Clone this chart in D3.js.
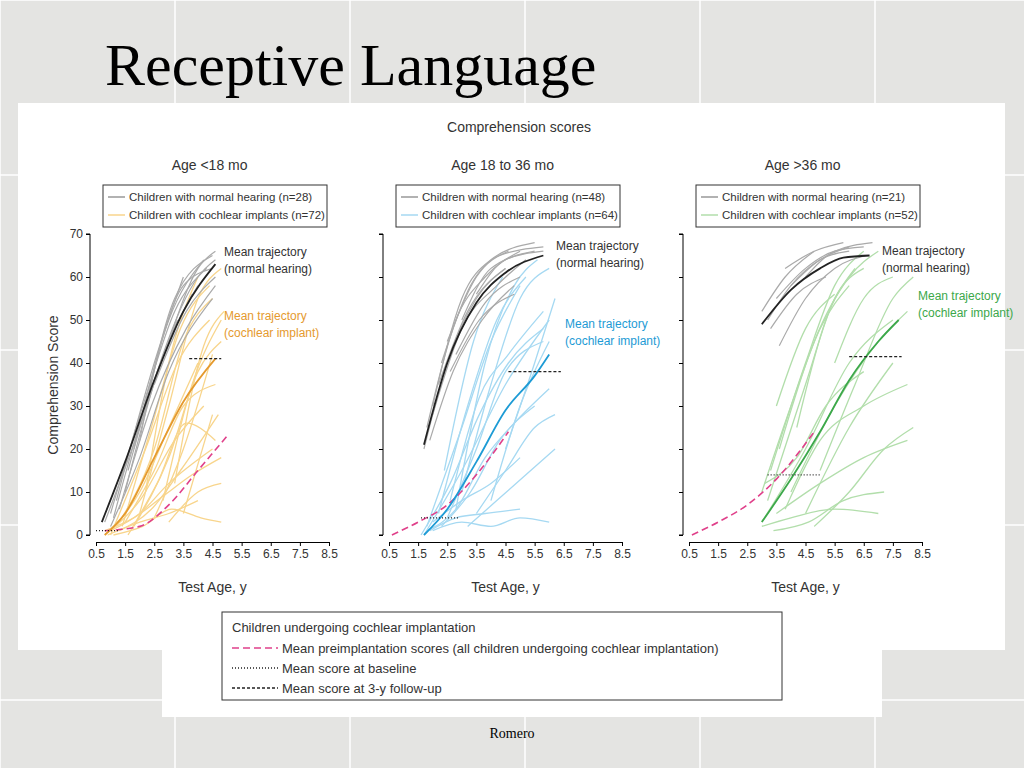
<!DOCTYPE html>
<html><head><meta charset="utf-8">
<script src="https://cdn.jsdelivr.net/npm/d3@7"></script>
<style>body{margin:0;background:#dcdcdc}text{font-family:"Liberation Sans",Arial,sans-serif}</style>
</head><body>
<script>
// x ticks and y ticks
const xTicks = [0.5, 1.5, 2.5, 3.5, 4.5, 5.5, 6.5, 7.5, 8.5];
const yTicks = [0, 10, 20, 30, 40, 50, 60, 70];

const panelTitles = ["Age <18 mo", "Age 18 to 36 mo", "Age >36 mo"];
const legendNormal = ["Children with normal hearing (n=28)", "Children with normal hearing (n=48)", "Children with normal hearing (n=21)"];
const legendCI = ["Children with cochlear implants (n=72)", "Children with cochlear implants (n=64)", "Children with cochlear implants (n=52)"];

// individual trajectories [age, score, age, score, ...]
const normal1 = [[0.8,3,2,25,3,45,4,58],[1,5,2.2,32,3.2,52,4.3,62],[1.2,8,2.5,40,3.5,60],[1.5,10,2.8,42,4,60,4.6,64],[1,2,2,18,3,38,4.5,55],[1.8,20,3,50,4.2,64],[2,22,3.2,55,4.5,65],[1.3,6,2.4,30,3.6,48,4.6,58],[2.2,30,3.5,58,4.5,62],[1.6,15,2.6,38,3.8,56],[2.5,35,3.6,52,4.6,60],[1.1,4,2.1,28,3.3,50],[3,45,4,62,4.6,66]];
const ci1 = [[0.8,0,2,10,3,25,4,40],[1,1,2,5,3,12,4.5,20],[1.2,2,2.5,20,3.5,45,4.5,55],[0.9,0,2,3,3,5,4,8],[1.5,3,2.5,15,3.5,30,4.6,35],[1,0,2.2,20,3.3,40,4.4,50],[2,5,3,30,4,55,4.8,62],[1.3,1,2.4,6,3.4,15,4.7,28],[1.8,2,3,18,4,38,4.8,45],[2.5,4,3.5,20,4.5,42],[1,1,2,8,3.2,22,4.2,30],[3,3,4,10,4.8,12],[2.2,10,3,40,4,60],[1.6,0,2.6,12,3.6,26,4.6,22],[0.8,1,1.8,4,2.8,9,3.8,14,4.8,18],[3.5,5,4.5,28],[1.4,2,2.4,25,3.4,48,4.4,58],[2.8,8,3.8,35,4.8,50],[1.1,0,2.1,2,3.1,6,4.1,4,4.8,3],[3.2,12,4.2,44,4.9,52]];
const normal2 = [[1.7,20,2.5,40,3.5,55,4.5,62],[1.8,25,2.8,50,3.8,60,5,66],[2,30,3,55,4,64,5.5,68],[2.2,35,3.2,52,4.5,62],[1.9,22,2.7,38,3.7,50,4.8,58],[2.5,45,3.5,60,4.6,66],[3,50,4,62,5.5,66],[2.3,40,3.3,58,4.3,65,5.8,67],[2.8,42,3.8,54,5,60],[2,28,3,48,4.2,58,5.2,64],[3.5,56,4.5,64,5.8,66],[2.6,38,3.6,50,4.8,56]];
const ci2 = [[1.7,0,3,15,4.5,35,6,50],[1.8,2,3,25,4,45,5,58],[2,3,3,8,4,12,5,18],[2.2,5,3.2,30,4.2,50,5.2,60],[1.9,1,2.8,4,3.8,5,5,6],[2.5,4,3.5,20,4.5,38,5.8,45],[3,10,4,35,5,55,6,62],[2.3,2,3.3,10,4.3,22,5.5,30],[1.6,0,2.6,12,3.6,28,4.6,40,5.8,48],[3.5,5,4.5,15,5.5,25,6.2,28],[2.8,6,3.8,40,4.8,58,5.6,64],[2,1,3,3,4,2,5,4,6,3],[4,8,5,30,6,45],[2.4,15,3.4,45,4.4,60],[1.8,1,2.8,6,3.8,18,4.8,26,6,34],[3.2,2,4.2,8,5.2,14,6.2,20],[2.6,8,3.6,32,4.6,42,5.8,52],[4.5,20,5.5,40,6.2,55]];
const normal3 = [[3.2,50,4,58,5,64,6,66],[3.5,55,4.5,62,5.5,66,6.5,67],[3,52,3.8,60,4.8,66],[3.6,44,4.5,55,5.5,62,6.6,65],[4,58,5,64,6,67],[3.3,48,4.2,56,5.2,60],[4.5,60,5.5,66,6.8,68],[3.8,62,4.8,66,5.8,68]];
const ci3 = [[3,3,4.5,20,6,40,7.5,50],[3.2,8,4.5,35,5.5,55,6.5,62],[3.5,5,5,12,6.5,18,8,22],[3,2,4,4,5.5,6,7,5],[3.3,15,4.5,40,5.5,58,6.5,66],[4,10,5.5,30,7,45,8,52],[3.6,20,4.8,45,6,60,7,66],[4.5,5,6,25,7.5,40],[3.1,12,4.2,18,5.2,30,6.5,38],[5,15,6.2,35,7.5,55,8.2,60],[3.4,1,4.6,3,5.8,8,7.2,10],[4.2,25,5.2,50,6.2,62],[3.8,6,5,22,6.5,30,8,35],[5.5,40,6.5,55,7.5,60],[3,10,4,30,5,48,6,58],[4.8,2,6,10,7.2,20,8.2,25],[3.5,30,4.5,48,5.5,56]];

// mean trajectories and reference lines
const meanNormal = [[[0.7,3],[1.5,17],[2.5,36],[3.5,52],[4.6,63]],[[1.7,21],[2.5,40],[3.5,54],[4.5,61],[5.8,65]],[[3,49],[4,57],[5,62],[5.8,64.5],[6.7,65]]];
const meanCI = [[[0.8,0],[1.5,5],[2.5,18],[3.5,31],[4.6,41]],[[1.7,0],[2.5,6],[3.5,17],[4.5,29],[5.5,37],[6,42]],[[3,3],[4,13],[5,24],[6,36],[7,45],[7.7,50]]];
const meanPre = [[[0.8,1],[2,2],[3,7],[4,15],[5,23]],[[0.6,0],[1.5,3],[2.5,7],[3.5,14],[4.6,24]],[[0.6,0],[1.5,3],[2.5,7],[3.5,13],[4.8,24]]];
const baseline = [[0.5,1.3,1],[1.6,2.9,4],[3.2,5,14]];
const followUp = [[3.7,4.8,41],[4.6,6.4,38],[6,7.8,41.5]];

const thinColors = ["#f8d58c", "#a6d9f2", "#b2deab"];
const meanColors = ["#e59a2e", "#1d9bd5", "#3ca84a"];
const noteNormal = [[224,256],[556,250],[882,255]];
const noteCI = [[224,320],[565,328],[918,300]];
const xLeft = [96, 389, 689];

const svg = d3.select("body").append("svg").attr("width",1024).attr("height",768);

// slide background
svg.append("rect").attr("width",1024).attr("height",768).attr("fill","#e4e4e2");
[0,175,350,525,700,875].forEach(x => svg.append("line").attr("x1",x).attr("x2",x).attr("y1",0).attr("y2",768).attr("stroke","#fff").attr("stroke-width",1.5));
[0,175,350,525,700].forEach(y => svg.append("line").attr("x1",0).attr("x2",1024).attr("y1",y).attr("y2",y).attr("stroke","#fff").attr("stroke-width",1.5));
svg.append("text").attr("x",105).attr("y",85).attr("font-size",60).style("font-family","'Liberation Serif',serif").text("Receptive Language");
svg.append("rect").attr("x",18).attr("y",103).attr("width",987).attr("height",547).attr("fill","#fff");
svg.append("rect").attr("x",162).attr("y",605).attr("width",720).attr("height",112).attr("fill","#fff");
svg.append("text").attr("x",512).attr("y",738).attr("text-anchor","middle").attr("font-size",14).style("font-family","'Liberation Serif',serif").text("Romero");

svg.append("text").attr("x",519).attr("y",132).attr("text-anchor","middle").attr("font-size",14).attr("fill","#333").text("Comprehension scores");

const y = d3.scaleLinear().domain([0,70]).range([535,234]);
const normals = [normal1, normal2, normal3], cis = [ci1, ci2, ci3];

for (let p = 0; p < 3; p++) {
  const x = d3.scaleLinear().domain([0.5,8.5]).range([xLeft[p], xLeft[p] + 233]);
  const g = svg.append("g");
  const toPts = a => d3.range(0, a.length, 2).map(i => [a[i], a[i+1]]);
  const line = d3.line().x(d => x(d[0])).y(d => y(d[1])).curve(d3.curveMonotoneX);

  g.append("text").attr("x",x(4.4)).attr("y",170).attr("text-anchor","middle").attr("font-size",14).attr("fill","#333").text(panelTitles[p]);
  // panel legend
  const lb = g.append("g").attr("transform",`translate(${xLeft[p]+7},185)`);
  lb.append("rect").attr("width",224).attr("height",42).attr("fill","#fff").attr("stroke","#333");
  [[legendNormal[p],"#999"],[legendCI[p],thinColors[p]]].forEach((e,i) => {
    lb.append("line").attr("x1",5).attr("x2",22).attr("y1",12+i*18).attr("y2",12+i*18).attr("stroke",e[1]).attr("stroke-width",1.5);
    lb.append("text").attr("x",26).attr("y",16+i*18).attr("font-size",11.5).attr("fill","#333").text(e[0]);
  });

  cis[p].forEach(a => g.append("path").attr("d",line(toPts(a))).attr("fill","none").attr("stroke",thinColors[p]).attr("stroke-width",1.3));
  normals[p].forEach(a => g.append("path").attr("d",line(toPts(a))).attr("fill","none").attr("stroke","#aaa").attr("stroke-width",1.2));

  g.append("path").attr("d",line(meanPre[p])).attr("fill","none").attr("stroke","#e0408a").attr("stroke-width",1.6).attr("stroke-dasharray","7,4");
  g.append("path").attr("d",line(meanNormal[p])).attr("fill","none").attr("stroke","#222").attr("stroke-width",1.8);
  g.append("path").attr("d",line(meanCI[p])).attr("fill","none").attr("stroke",meanColors[p]).attr("stroke-width",1.8);
  g.append("line").attr("x1",x(baseline[p][0])).attr("x2",x(baseline[p][1])).attr("y1",y(baseline[p][2])).attr("y2",y(baseline[p][2])).attr("stroke","#222").attr("stroke-width",1.3).attr("stroke-dasharray","1,2");
  g.append("line").attr("x1",x(followUp[p][0])).attr("x2",x(followUp[p][1])).attr("y1",y(followUp[p][2])).attr("y2",y(followUp[p][2])).attr("stroke","#222").attr("stroke-width",1.3).attr("stroke-dasharray","3,2");

  g.append("g").attr("transform","translate(0,542)").call(d3.axisBottom(x).tickValues(xTicks).tickFormat(d3.format(".1f")).tickSize(4))
    .call(a => a.selectAll("text").attr("font-size",12).attr("fill","#333"));
  g.append("g").attr("transform",`translate(${xLeft[p]-6},0)`).call(d3.axisLeft(y).tickValues(yTicks).tickSize(4).tickFormat(p === 0 ? d3.format("d") : ""))
    .call(a => { a.select(".domain").attr("d",`M-4,${y(70)}H0V${y(0)}H-4`); a.selectAll("text").attr("font-size",12).attr("fill","#333"); });
  g.append("text").attr("x",x(4.5)).attr("y",592).attr("text-anchor","middle").attr("font-size",14).attr("fill","#333").text("Test Age, y");

  [["Mean trajectory","(normal hearing)",noteNormal[p],"#333"],["Mean trajectory","(cochlear implant)",noteCI[p],meanColors[p]]].forEach(n => {
    g.append("text").attr("x",n[2][0]).attr("y",n[2][1]).attr("font-size",12).attr("fill",n[3]).text(n[0]);
    g.append("text").attr("x",n[2][0]).attr("y",n[2][1]+17).attr("font-size",12).attr("fill",n[3]).text(n[1]);
  });
}
svg.append("text").attr("transform","translate(58,385) rotate(-90)").attr("text-anchor","middle").attr("font-size",14).attr("fill","#333").text("Comprehension Score");

// bottom legend
const bl = svg.append("g").attr("transform","translate(222,612)");
bl.append("rect").attr("width",560).attr("height",88).attr("fill","#fff").attr("stroke","#333");
bl.append("text").attr("x",10).attr("y",20).attr("font-size",13).attr("fill","#333").text("Children undergoing cochlear implantation");
[["Mean preimplantation scores (all children undergoing cochlear implantation)","#e0408a","7,4",1.6],["Mean score at baseline","#222","1,2",1.3],["Mean score at 3-y follow-up","#222","3,2",1.3]].forEach((e,i) => {
  bl.append("line").attr("x1",10).attr("x2",56).attr("y1",36+i*20).attr("y2",36+i*20).attr("stroke",e[1]).attr("stroke-dasharray",e[2]).attr("stroke-width",e[3]);
  bl.append("text").attr("x",60).attr("y",41+i*20).attr("font-size",13).attr("fill","#333").text(e[0]);
});
</script>
</body></html>
